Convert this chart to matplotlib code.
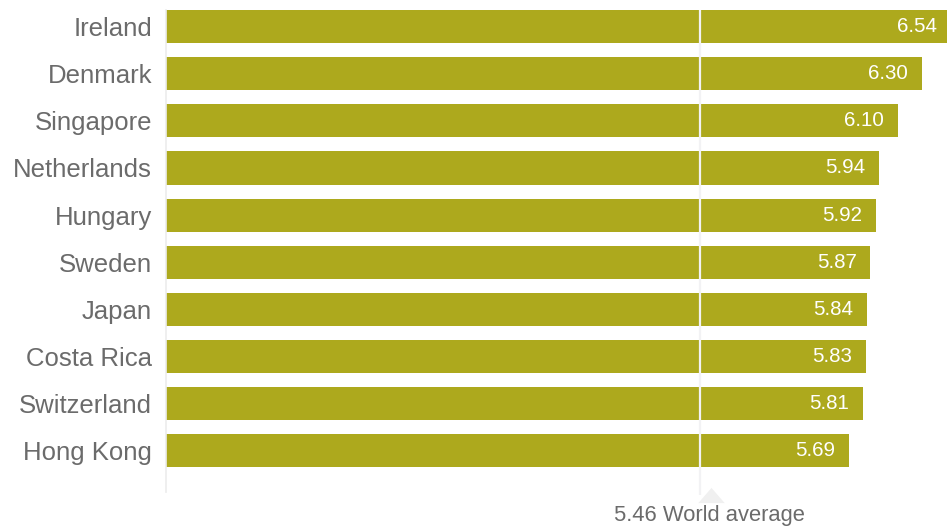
import matplotlib
matplotlib.use("Agg")
import matplotlib.pyplot as plt

countries = ["Ireland", "Denmark", "Singapore", "Netherlands", "Hungary",
             "Sweden", "Japan", "Costa Rica", "Switzerland", "Hong Kong"]
values = [6.54, 6.30, 6.10, 5.94, 5.92, 5.87, 5.84, 5.83, 5.81, 5.69]
world_avg = 5.46
world_avg_line_pos = 4.45  # where the marker line sits on the bar scale in the picture

BAR = "#ADA91D"
TXT = "#6b6b6b"

plt.rcParams["font.family"] = ["Liberation Sans", "DejaVu Sans"]
fig = plt.figure(figsize=(9.47, 5.26), dpi=100)
ax = fig.add_axes([0.1753, 0.0646, 0.8247, 0.9164])

ypos = list(range(len(countries)))
ax.barh(ypos, values, height=0.70, color=BAR, zorder=2)
ax.set_xlim(0, 6.508)
ax.set_ylim(9.87, -0.35)

for y, v in zip(ypos, values):
    ax.annotate(f"{v:.2f}", (v, y), xytext=(-10, 0), textcoords="offset points",
                ha="right", va="center", color="white", fontsize=14.8, zorder=4,
                annotation_clip=False)

# world average marker
ax.plot([world_avg_line_pos, world_avg_line_pos], [-0.35, 9.93], color="#f2f2f4",
        lw=1.6, zorder=3, clip_on=False, solid_capstyle="butt")
tri = [(-13, -7.5), (13, -7.5), (0, 7.5)]
ax.plot([world_avg_line_pos + 0.09], [9.93], marker=tri, ms=19, color="#f0f0f0",
        mec="none", clip_on=False, zorder=3)
ax.text(world_avg_line_pos + 0.075, 10.36, f"{world_avg:.2f} World average",
        ha="center", va="center", color=TXT, fontsize=15.8, clip_on=False)

ax.set_yticks(ypos)
ax.set_yticklabels(countries, fontsize=18.5, color=TXT)
for lbl in ax.get_yticklabels():
    lbl.set_verticalalignment("center_baseline")
ax.tick_params(axis="y", length=0, pad=10)
ax.set_xticks([])
for s in ["top", "right", "bottom"]:
    ax.spines[s].set_visible(False)
ax.spines["left"].set_color("#ececec")
ax.spines["left"].set_linewidth(1.2)

fig.savefig("out.png", dpi=100)
